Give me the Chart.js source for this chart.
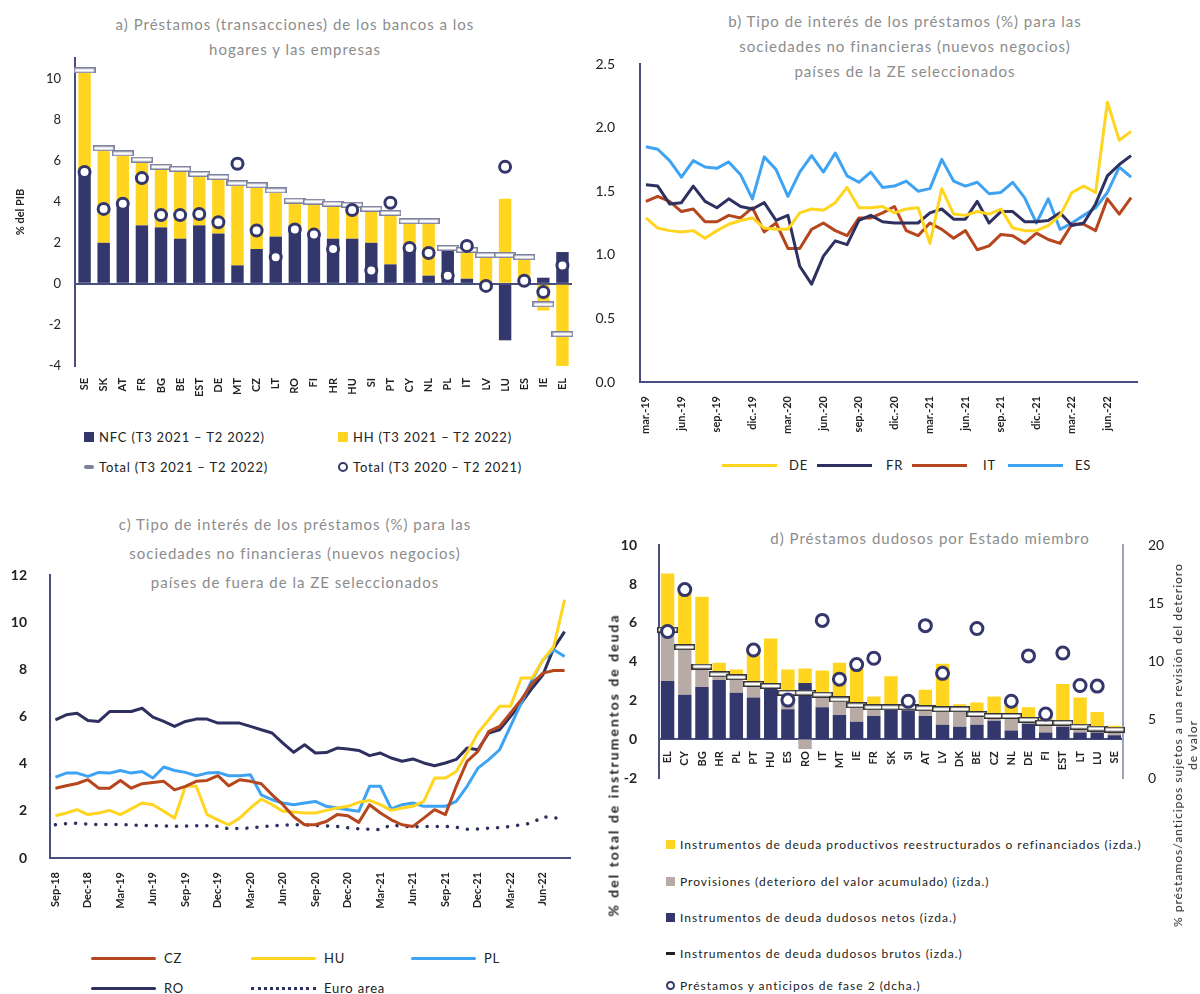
<!DOCTYPE html>
<html lang="es">
<head>
<meta charset="UTF-8">
<title>Préstamos bancarios, tipos de interés y préstamos dudosos</title>
<script src="https://cdn.jsdelivr.net/npm/chart.js"></script>
<style>
    body { margin: 0; background: #fff; font-family: 'Lato', sans-serif; }
    #page { position: relative; width: 1200px; height: 994px; overflow: hidden; }
    canvas { position: absolute; }
    .title { position: absolute; color: #8c8c8c; font-size: 15px; text-align: center; line-height: 25px; white-space: nowrap; letter-spacing: 1px; }
    .leg { position: absolute; font-size: 13px; color: #222; white-space: nowrap; display: flex; align-items: center; height: 16px; letter-spacing: 0.8px; }
    .leg span.sw { display: inline-block; margin-right: 5px; }
    .rot { position: absolute; transform: translate(-50%, -50%) rotate(-90deg); white-space: nowrap; text-align: center; color: #222; }
</style>
</head>
<body>
<div id="page">
    <!-- panel a -->
    <div class="title" style="left:0; top:12px; width:590px;">a) Préstamos (transacciones) de los bancos a los<br>hogares y las empresas</div>
    <canvas id="chartA" width="590" height="420" style="left:0; top:0;"></canvas>
    <div class="leg" style="left:84px; top:429px;"><span class="sw" style="width:10px;height:10px;background:#33376b;"></span>NFC (T3 2021 – T2 2022)</div>
    <div class="leg" style="left:338px; top:429px;"><span class="sw" style="width:10px;height:10px;background:#ffd520;"></span>HH (T3 2021 – T2 2022)</div>
    <div class="leg" style="left:84px; top:459px;"><span class="sw" style="width:10px;height:4px;background:#7e819e;border-radius:2px;"></span>Total (T3 2021 – T2 2022)</div>
    <div class="leg" style="left:338px; top:459px;"><span class="sw" style="width:6px;height:6px;border:2.5px solid #33376b;border-radius:50%;"></span>Total (T3 2020 – T2 2021)</div>

    <!-- panel b -->
    <div class="title" style="left:600px; top:9px; width:610px;">b) Tipo de interés de los préstamos (%) para las<br>sociedades no financieras (nuevos negocios)<br>países de la ZE seleccionados</div>
    <canvas id="chartB" width="610" height="450" style="left:590px; top:0;"></canvas>
    <div class="leg" style="left:722px; top:457px;"><span class="sw" style="width:55px;height:3px;background:#ffd520;margin-right:12px;"></span>DE</div>
    <div class="leg" style="left:817px; top:457px;"><span class="sw" style="width:55px;height:3px;background:#2e3160;margin-right:14px;"></span>FR</div>
    <div class="leg" style="left:912px; top:457px;"><span class="sw" style="width:55px;height:3px;background:#b6461e;margin-right:16px;"></span>IT</div>
    <div class="leg" style="left:1008px; top:457px;"><span class="sw" style="width:55px;height:3px;background:#3fa3f4;margin-right:12px;"></span>ES</div>

    <!-- panel c -->
    <div class="title" style="left:0; top:510px; width:590px; line-height:29px;">c) Tipo de interés de los préstamos (%) para las<br>sociedades no financieras (nuevos negocios)<br>países de fuera de la ZE seleccionados</div>
    <canvas id="chartC" width="590" height="430" style="left:0; top:500px;"></canvas>
    <div class="leg" style="left:91px; top:950px;"><span class="sw" style="width:65px;height:3px;background:#b6461e;border-radius:2px;margin-right:8px;"></span>CZ</div>
    <div class="leg" style="left:251px; top:950px;"><span class="sw" style="width:65px;height:3px;background:#ffd520;border-radius:2px;margin-right:8px;"></span>HU</div>
    <div class="leg" style="left:411px; top:950px;"><span class="sw" style="width:65px;height:3px;background:#3fa3f4;border-radius:2px;margin-right:8px;"></span>PL</div>
    <div class="leg" style="left:91px; top:980px;"><span class="sw" style="width:65px;height:3px;background:#2e3160;border-radius:2px;margin-right:8px;"></span>RO</div>
    <div class="leg" style="left:251px; top:980px;"><span class="sw" style="width:65px;height:0;border-top:3px dotted #2e3160;margin-right:8px;"></span>Euro area</div>

    <!-- panel d -->
    <div class="title" style="left:730px; top:526px; width:400px;">d) Préstamos dudosos por Estado miembro</div>
    <canvas id="chartD" width="600" height="300" style="left:600px; top:520px;"></canvas>
    <div class="rot" style="left:613px; top:765px; font-size:14px; font-weight:bold; letter-spacing:2px;">% del total de instrumentos de deuda</div>
    <div class="rot" style="left:1185px; top:745px; font-size:12px; line-height:15px; letter-spacing:1px;">% préstamos/anticipos sujetos a una revisión del deterioro<br>de valor</div>
    <div class="leg" style="left:666px; top:836px; font-size:12px; letter-spacing:1px;"><span class="sw" style="width:9px;height:9px;background:#ffd520;"></span>Instrumentos de deuda productivos reestructurados o refinanciados (izda.)</div>
    <div class="leg" style="left:666px; top:873px; font-size:12px; letter-spacing:1px;"><span class="sw" style="width:9px;height:9px;background:#b8aba6;"></span>Provisiones (deterioro del valor acumulado) (izda.)</div>
    <div class="leg" style="left:666px; top:909px; font-size:12px; letter-spacing:1px;"><span class="sw" style="width:9px;height:9px;background:#33376b;"></span>Instrumentos de deuda dudosos netos (izda.)</div>
    <div class="leg" style="left:666px; top:945px; font-size:12px; letter-spacing:1px;"><span class="sw" style="width:9px;height:3px;background:#222;"></span>Instrumentos de deuda dudosos brutos (izda.)</div>
    <div class="leg" style="left:666px; top:977px; font-size:12px; letter-spacing:1px;"><span class="sw" style="width:5px;height:5px;border:2.5px solid #33376b;border-radius:50%;"></span>Préstamos y anticipos de fase 2 (dcha.)</div>
</div>

<script>
    // ---- panel a: transacciones, % del PIB ----
    const aCountries = ['SE','SK','AT','FR','BG','BE','EST','DE','MT','CZ','LT','RO','FI','HR','HU','SI','PT','CY','NL','PL','IT','LV','LU','ES','IE','EL'];
    const aNfc = [5.4, 2.0, 4.0, 2.85, 2.75, 2.2, 2.85, 2.45, 0.9, 1.7, 2.3, 2.85, 2.5, 2.2, 2.2, 2.0, 0.95, 1.8, 0.4, 1.7, 0.25, 0.1, -2.75, 0, 0.3, 1.55];
    const aHh = [5.0, 4.6, 2.35, 3.2, 2.95, 3.4, 2.5, 2.75, 4.0, 3.1, 2.25, 1.2, 1.5, 1.7, 1.65, 1.65, 2.5, 1.25, 2.65, 0.05, 1.4, 1.3, 4.15, 1.3, -1.3, -4.0];
    const aTotal = [10.4, 6.6, 6.35, 6.05, 5.7, 5.6, 5.35, 5.2, 4.9, 4.8, 4.55, 4.05, 4.0, 3.9, 3.85, 3.65, 3.45, 3.05, 3.05, 1.75, 1.65, 1.4, 1.4, 1.3, -1.0, -2.45];
    const aTotalPrev = [5.45, 3.65, 3.9, 5.15, 3.35, 3.35, 3.4, 3.0, 5.85, 2.6, 1.3, 2.65, 2.4, 1.7, 3.6, 0.65, 3.95, 1.75, 1.5, 0.4, 1.85, -0.1, 5.7, 0.15, -0.4, 0.9];
    const aTicks = [-4, -2, 0, 2, 4, 6, 8, 10];

    // ---- panel b: tipos de interés ZE (%) ----
    const bMonths = ['mar.-19','abr.-19','may.-19','jun.-19','jul.-19','ago.-19','sep.-19','oct.-19','nov.-19','dic.-19',
        'ene.-20','feb.-20','mar.-20','abr.-20','may.-20','jun.-20','jul.-20','ago.-20','sep.-20','oct.-20','nov.-20','dic.-20',
        'ene.-21','feb.-21','mar.-21','abr.-21','may.-21','jun.-21','jul.-21','ago.-21','sep.-21','oct.-21','nov.-21','dic.-21',
        'ene.-22','feb.-22','mar.-22','abr.-22','may.-22','jun.-22','jul.-22','ago.-22'];
    const bDE = [1.29, 1.21, 1.19, 1.18, 1.19, 1.13, 1.19, 1.24, 1.27, 1.29, 1.21, 1.20, 1.20, 1.33, 1.36, 1.35, 1.41, 1.53, 1.37, 1.37,
        1.38, 1.33, 1.36, 1.37, 1.09, 1.52, 1.32, 1.31, 1.34, 1.32, 1.36, 1.21, 1.19, 1.19, 1.23, 1.31, 1.49, 1.54, 1.49, 2.20, 1.90, 1.97];
    const bFR = [1.55, 1.54, 1.40, 1.41, 1.54, 1.42, 1.37, 1.44, 1.38, 1.36, 1.41, 1.27, 1.31, 0.91, 0.77, 0.99, 1.11, 1.08, 1.27, 1.31,
        1.26, 1.25, 1.25, 1.25, 1.33, 1.36, 1.28, 1.28, 1.42, 1.25, 1.34, 1.34, 1.26, 1.26, 1.27, 1.33, 1.23, 1.25, 1.40, 1.62, 1.71, 1.78];
    const bIT = [1.42, 1.46, 1.42, 1.34, 1.36, 1.26, 1.26, 1.31, 1.29, 1.37, 1.18, 1.25, 1.05, 1.05, 1.20, 1.25, 1.19, 1.15, 1.29, 1.29,
        1.33, 1.38, 1.19, 1.15, 1.25, 1.20, 1.13, 1.19, 1.04, 1.07, 1.16, 1.15, 1.09, 1.17, 1.12, 1.09, 1.24, 1.24, 1.19, 1.44, 1.32, 1.45];
    const bES = [1.85, 1.83, 1.74, 1.61, 1.74, 1.69, 1.68, 1.73, 1.63, 1.44, 1.77, 1.67, 1.46, 1.65, 1.78, 1.65, 1.80, 1.62, 1.57, 1.65,
        1.53, 1.54, 1.58, 1.50, 1.52, 1.75, 1.58, 1.54, 1.57, 1.48, 1.49, 1.57, 1.45, 1.25, 1.44, 1.20, 1.25, 1.31, 1.37, 1.49, 1.69, 1.61];

    // ---- panel c: tipos de interés fuera de la ZE (%) ----
    const cMonths = ['Sep-18','Oct-18','Nov-18','Dec-18',
        'Jan-19','Feb-19','Mar-19','Apr-19','May-19','Jun-19','Jul-19','Aug-19','Sep-19','Oct-19','Nov-19','Dec-19',
        'Jan-20','Feb-20','Mar-20','Apr-20','May-20','Jun-20','Jul-20','Aug-20','Sep-20','Oct-20','Nov-20','Dec-20',
        'Jan-21','Feb-21','Mar-21','Apr-21','May-21','Jun-21','Jul-21','Aug-21','Sep-21','Oct-21','Nov-21','Dec-21',
        'Jan-22','Feb-22','Mar-22','Apr-22','May-22','Jun-22','Jul-22','Aug-22'];
    const cCZ = [2.96, 3.06, 3.16, 3.32, 2.96, 2.96, 3.29, 2.96, 3.15, 3.20, 3.25, 2.89, 3.04, 3.25, 3.29, 3.49, 3.06, 3.32, 3.25, 3.15,
        2.68, 2.26, 1.75, 1.41, 1.41, 1.55, 1.84, 1.79, 1.51, 2.26, 1.91, 1.62, 1.41, 1.34, 1.69, 2.05, 1.84, 3.04, 4.10, 4.52,
        5.37, 5.58, 6.14, 6.71, 7.41, 7.84, 7.95, 7.95];
    const cHU = [1.79, 1.91, 2.05, 1.84, 1.91, 2.02, 1.84, 2.08, 2.33, 2.26, 1.98, 1.69, 3.04, 3.04, 1.84, 1.62, 1.41, 1.69, 2.12, 2.50,
        2.26, 1.98, 1.95, 1.91, 1.91, 2.02, 2.12, 2.19, 2.36, 2.44, 2.26, 2.02, 2.12, 2.19, 2.40, 3.39, 3.39, 3.67, 4.45, 5.30,
        5.86, 6.43, 6.43, 7.63, 7.63, 8.40, 8.97, 10.95];
    const cPL = [3.43, 3.60, 3.60, 3.46, 3.63, 3.60, 3.71, 3.60, 3.67, 3.39, 3.86, 3.71, 3.63, 3.49, 3.60, 3.63, 3.49, 3.49, 3.53, 2.68,
        2.47, 2.33, 2.26, 2.33, 2.40, 2.19, 2.12, 2.05, 1.98, 3.04, 3.04, 2.08, 2.26, 2.33, 2.19, 2.19, 2.19, 2.40, 3.04, 3.81,
        4.17, 4.59, 5.58, 6.57, 7.56, 8.40, 8.83, 8.54];
    const cRO = [5.86, 6.07, 6.14, 5.83, 5.79, 6.21, 6.21, 6.21, 6.35, 5.97, 5.79, 5.58, 5.79, 5.89, 5.89, 5.72, 5.72, 5.72, 5.58, 5.44,
        5.30, 4.87, 4.48, 4.80, 4.45, 4.47, 4.66, 4.62, 4.56, 4.34, 4.45, 4.24, 4.10, 4.20, 4.03, 3.91, 4.03, 4.18, 4.66, 4.59,
        5.30, 5.44, 6.00, 6.57, 7.20, 7.77, 8.90, 9.60];
    const cEA = [1.41, 1.46, 1.47, 1.44, 1.42, 1.42, 1.42, 1.40, 1.38, 1.37, 1.36, 1.34, 1.35, 1.37, 1.37, 1.34, 1.24, 1.26, 1.27, 1.33,
        1.36, 1.39, 1.41, 1.40, 1.38, 1.36, 1.34, 1.28, 1.24, 1.22, 1.20, 1.41, 1.34, 1.32, 1.34, 1.34, 1.34, 1.30, 1.22, 1.23,
        1.27, 1.29, 1.34, 1.41, 1.48, 1.76, 1.69, 1.73];

    // ---- panel d: préstamos dudosos ----
    const dCountries = ['EL','CY','BG','HR','PL','PT','HU','ES','RO','IT','MT','IE','FR','SK','SI','AT','LV','DK','BE','CZ','NL','DE','FI','EST','LT','LU','SE'];
    const dNet = [3.0, 2.3, 2.7, 3.05, 2.4, 2.15, 2.65, 1.55, 2.9, 1.65, 1.25, 0.9, 1.2, 1.65, 1.5, 1.2, 0.75, 0.65, 0.75, 0.95, 0.45, 0.8, 0.35, 0.65, 0.35, 0.35, 0.2];
    const dProv = [2.65, 2.45, 1.05, 0.3, 0.8, 0.7, 0.1, 0.85, -0.5, 0.65, 0.8, 0.85, 0.45, 0, 0.15, 0.4, 0.8, 0.9, 0.55, 0.25, 0.75, 0.2, 0.5, 0.2, 0.3, 0.2, 0.3];
    const dRestr = [2.9, 2.95, 3.6, 0.6, 0.4, 1.65, 2.45, 1.2, 0.75, 1.25, 1.9, 2.15, 0.55, 1.6, 0, 0.95, 2.35, 0.25, 0.6, 1.0, 0.55, 0.65, 0.35, 2.0, 1.5, 0.85, 0.2];
    const dGross = [5.65, 4.75, 3.75, 3.35, 3.2, 2.85, 2.75, 2.4, 2.4, 2.3, 2.05, 1.75, 1.65, 1.65, 1.65, 1.6, 1.55, 1.55, 1.3, 1.2, 1.2, 1.0, 0.85, 0.85, 0.65, 0.55, 0.5];
    const dStage2 = [12.6, 16.2, null, null, null, 11.0, null, 6.7, null, 13.55, 8.5, 9.75, 10.3, null, 6.6, 13.1, 9.0, null, 12.85, null, 6.6, 10.5, 5.5, 10.75, 7.95, 7.9, null];

    const NAVY = '#33376b';
    const LINE_NAVY = '#2e3160';
    const YELLOW = '#ffd520';
    const TAUPE = '#b8aba6';
    const RUST = '#b6461e';
    const BLUE = '#3fa3f4';
    const AXIS = '#4a4e7e';

    Chart.defaults.font.family = "'Lato', sans-serif";
    Chart.defaults.color = '#222';
    Chart.defaults.animation = false;
    Chart.defaults.plugins.legend.display = false;
    Chart.defaults.plugins.tooltip.enabled = false;

    // small white bar used as a marker for totals
    function barMarker(w, h, stroke) {
        const c = document.createElement('canvas');
        c.width = w; c.height = h;
        const g = c.getContext('2d');
        g.fillStyle = '#fff';
        g.fillRect(0, 0, w, h);
        g.strokeStyle = stroke;
        g.lineWidth = 1.5;
        g.strokeRect(0.75, 0.75, w - 1.5, h - 1.5);
        return c;
    }
    const totalMark = barMarker(22, 6, '#7e819e');
    const grossMark = barMarker(21, 6, '#333');

    const zeroLine = c => (c.tick && c.tick.value === 0) ? AXIS : 'rgba(0,0,0,0)';

    // panel a
    new Chart(document.getElementById('chartA'), {
        type: 'bar',
        data: {
            labels: aCountries,
            datasets: [
                { label: 'NFC (T3 2021 – T2 2022)', data: aNfc, backgroundColor: NAVY, stack: 'bars', order: 3, barPercentage: 0.65, categoryPercentage: 1 },
                { label: 'HH (T3 2021 – T2 2022)', data: aHh, backgroundColor: YELLOW, stack: 'bars', order: 3, barPercentage: 0.65, categoryPercentage: 1 },
                { type: 'line', label: 'Total (T3 2021 – T2 2022)', data: aTotal, stack: 'tot', order: 1, showLine: false,
                  pointStyle: totalMark, pointRadius: 6 },
                { type: 'line', label: 'Total (T3 2020 – T2 2021)', data: aTotalPrev, stack: 'prev', order: 0, showLine: false,
                  pointStyle: 'circle', pointRadius: 5.5, pointBorderWidth: 3, pointBackgroundColor: '#fff', pointBorderColor: NAVY }
            ]
        },
        options: {
            responsive: false,
            layout: { padding: { left: 0, right: 18, top: 58, bottom: 0 } },
            scales: {
                x: {
                    stacked: true,
                    grid: { display: false },
                    border: { display: false },
                    ticks: { minRotation: 90, maxRotation: 90, autoSkip: false, padding: 4, font: { size: 11, weight: 'bold' } },
                    afterFit: s => { s.height = 54; }
                },
                y: {
                    stacked: true, min: -4, max: 11,
                    afterBuildTicks: s => { s.ticks = aTicks.map(v => ({ value: v })); },
                    ticks: { padding: 14, font: { size: 13 } },
                    grid: { color: zeroLine, lineWidth: 2, drawTicks: false },
                    border: { display: true, color: AXIS, width: 2 },
                    title: { display: true, text: '% del PIB', font: { size: 11, weight: 'bold' }, padding: { top: 14, bottom: 0 } },
                    afterFit: s => { s.width = 75; }
                }
            }
        }
    });

    function lineSet(label, data, color, extra) {
        return Object.assign({ label: label, data: data, borderColor: color, backgroundColor: color, borderWidth: 3,
            pointRadius: 0, borderJoinStyle: 'round', tension: 0 }, extra || {});
    }

    // panel b
    new Chart(document.getElementById('chartB'), {
        type: 'line',
        data: {
            labels: bMonths,
            datasets: [
                lineSet('DE', bDE, YELLOW),
                lineSet('FR', bFR, LINE_NAVY),
                lineSet('IT', bIT, RUST),
                lineSet('ES', bES, BLUE)
            ]
        },
        options: {
            responsive: false,
            layout: { padding: { left: 0, right: 63, top: 64, bottom: 0 } },
            scales: {
                x: {
                    offset: true,
                    grid: { display: false },
                    border: { display: true, color: AXIS, width: 2 },
                    ticks: { minRotation: 90, maxRotation: 90, autoSkip: false, padding: 6, font: { size: 11, weight: 'bold' },
                             callback: (v, i) => i % 3 === 0 ? bMonths[i] : '' },
                    afterFit: s => { s.height = 68; }
                },
                y: {
                    min: 0, max: 2.5,
                    grid: { display: false },
                    border: { display: true, color: AXIS, width: 2 },
                    ticks: { stepSize: 0.5, padding: 17, font: { size: 14 }, callback: v => v.toFixed(1) },
                    afterFit: s => { s.width = 50; }
                }
            }
        }
    });

    // panel c
    new Chart(document.getElementById('chartC'), {
        type: 'line',
        data: {
            labels: cMonths,
            datasets: [
                lineSet('CZ', cCZ, RUST),
                lineSet('HU', cHU, YELLOW),
                lineSet('PL', cPL, BLUE),
                lineSet('RO', cRO, LINE_NAVY),
                lineSet('Euro area', cEA, LINE_NAVY, { borderWidth: 3.5, borderDash: [0.1, 10], borderCapStyle: 'round' })
            ]
        },
        options: {
            responsive: false,
            layout: { padding: { left: 0, right: 20, top: 75, bottom: 0 } },
            scales: {
                x: {
                    offset: true,
                    grid: { display: false },
                    border: { display: true, color: AXIS, width: 2 },
                    ticks: { minRotation: 90, maxRotation: 90, autoSkip: false, padding: 6, font: { size: 11, weight: 'bold' },
                             callback: (v, i) => i % 3 === 0 ? cMonths[i] : '' },
                    afterFit: s => { s.height = 72; }
                },
                y: {
                    min: 0, max: 12,
                    grid: { display: false },
                    border: { display: true, color: AXIS, width: 2 },
                    ticks: { stepSize: 2, padding: 15, font: { size: 14, weight: 'bold' } },
                    afterFit: s => { s.width = 50; }
                }
            }
        }
    });

    // panel d
    new Chart(document.getElementById('chartD'), {
        type: 'bar',
        data: {
            labels: dCountries,
            datasets: [
                { label: 'Instrumentos de deuda dudosos netos (izda.)', data: dNet, backgroundColor: NAVY, stack: 'bars', order: 3, barPercentage: 0.78, categoryPercentage: 1 },
                { label: 'Provisiones (deterioro del valor acumulado) (izda.)', data: dProv, backgroundColor: TAUPE, stack: 'bars', order: 3, barPercentage: 0.78, categoryPercentage: 1 },
                { label: 'Instrumentos de deuda productivos reestructurados o refinanciados (izda.)', data: dRestr, backgroundColor: YELLOW, stack: 'bars', order: 3, barPercentage: 0.78, categoryPercentage: 1 },
                { type: 'line', label: 'Instrumentos de deuda dudosos brutos (izda.)', data: dGross, stack: 'gross', order: 1, showLine: false,
                  pointStyle: grossMark, pointRadius: 6 },
                { type: 'line', label: 'Préstamos y anticipos de fase 2 (dcha.)', data: dStage2, yAxisID: 'y2', stack: 'stage2', order: 0, showLine: false,
                  pointStyle: 'circle', pointRadius: 6, pointBorderWidth: 3, pointBackgroundColor: '#fff', pointBorderColor: NAVY }
            ]
        },
        options: {
            responsive: false,
            layout: { padding: { left: 0, right: 0, top: 13, bottom: 42 } },
            scales: {
                x: {
                    stacked: true,
                    position: { y: 0 },
                    grid: { display: false },
                    border: { display: true, color: AXIS, width: 2 },
                    ticks: { minRotation: 90, maxRotation: 90, autoSkip: false, padding: 4, font: { size: 11, weight: 'bold' } }
                },
                y: {
                    position: 'left', stacked: true, min: -2, max: 10,
                    grid: { display: false },
                    border: { display: true, color: AXIS, width: 2 },
                    ticks: { stepSize: 2, padding: 14, font: { size: 14, weight: 'bold' } },
                    afterFit: s => { s.width = 59; }
                },
                y2: {
                    position: 'right', min: 0, max: 20,
                    grid: { display: false },
                    border: { display: true, color: '#9ea1be', width: 2 },
                    ticks: { stepSize: 5, padding: 17, font: { size: 14 } },
                    afterFit: s => { s.width = 77; }
                }
            }
        }
    });
</script>
</body>
</html>
